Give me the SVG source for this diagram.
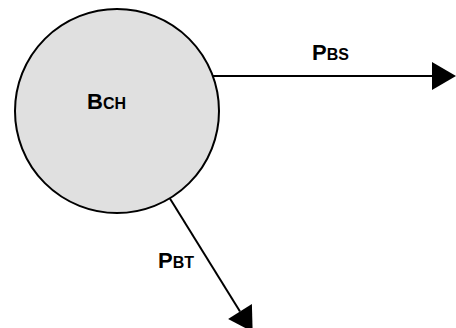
<svg xmlns="http://www.w3.org/2000/svg" width="456" height="328" viewBox="0 0 456 328">
<style>
.lbl{font-family:"Liberation Sans",Arial,sans-serif;font-weight:bold;fill:#000}
.big{font-size:22px}
.sub{font-size:16px}
.conn{stroke:#000;stroke-width:2;fill:none}
</style>
<defs>
<marker id="arr" markerUnits="userSpaceOnUse" markerWidth="25" markerHeight="30" refX="0" refY="14" orient="auto" overflow="visible">
<path d="M0,0 L24,14 L0,28 Z" fill="#000"/>
</marker>
</defs>
<g id="connectors">
<line class="conn" x1="213" y1="76" x2="432" y2="76" marker-end="url(#arr)"/>
<line class="conn" x1="169" y1="197" x2="240" y2="311.5" marker-end="url(#arr)"/>
</g>
<g id="node-bch">
<circle cx="117" cy="111" r="102" fill="#e0e0e0" stroke="#000" stroke-width="2"/>
<text class="lbl" x="87" y="109"><tspan class="big">B</tspan><tspan class="sub">CH</tspan></text>
</g>
<g id="label-pbs">
<text class="lbl" x="312" y="60"><tspan class="big">P</tspan><tspan class="sub">BS</tspan></text>
</g>
<g id="label-pbt">
<text class="lbl" x="158" y="268"><tspan class="big">P</tspan><tspan class="sub">BT</tspan></text>
</g>
</svg>
